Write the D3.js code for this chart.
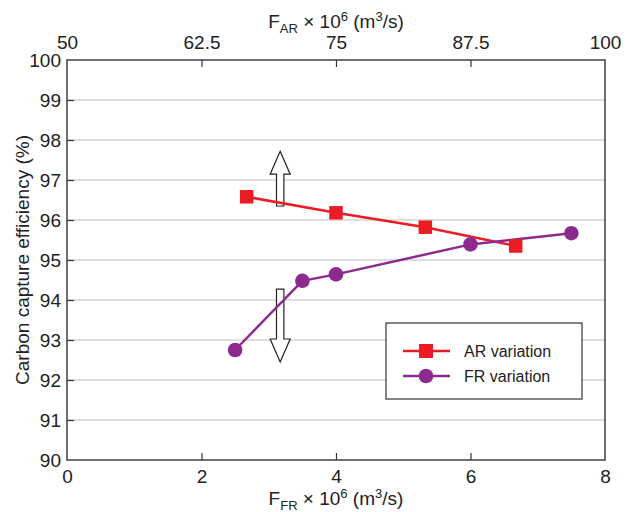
<!DOCTYPE html>
<html>
<head>
<meta charset="utf-8">
<script src="https://cdn.jsdelivr.net/npm/d3@7"></script>
<style>
  body { margin: 0; background: #fff; }
  text { font-family: "Liberation Sans", Arial, sans-serif; fill: #222; }
</style>
</head>
<body>
<div id="chart"></div>
<script>
// datos
const arFlow = [66.7, 75, 83.3, 91.7];          // F_AR x 10^6 (eje superior)
const arEff = [96.58, 96.18, 95.82, 95.35];
const frFlow = [2.5, 3.5, 4, 6, 7.5];           // F_FR x 10^6 (eje inferior)
const frEff = [92.75, 94.48, 94.64, 95.39, 95.67];

const bottomTicks = [0, 2, 4, 6, 8];
const topTicks = [50, 62.5, 75, 87.5, 100];
const yTicks = [90, 91, 92, 93, 94, 95, 96, 97, 98, 99, 100];

const seriesNames = ["AR variation", "FR variation"];
const colors = { ar: "#ec1c24", fr: "#8e2a8e", grid: "#bdbdbd" };

const WIDTH = 630, HEIGHT = 512;
const MARGIN = { top: 60, bottom: 52, left: 67, right: 25 };
const WV = WIDTH - MARGIN.left - MARGIN.right;
const HV = HEIGHT - MARGIN.top - MARGIN.bottom;

const svg = d3.select("#chart").append("svg")
  .attr("width", WIDTH).attr("height", HEIGHT);
const g = svg.append("g").attr("transform", `translate(${MARGIN.left},${MARGIN.top})`);

const xBottom = d3.scaleLinear().domain([0, 8]).range([0, WV]);
const xTop = d3.scaleLinear().domain([50, 100]).range([0, WV]);
const y = d3.scaleLinear().domain([90, 100]).range([HV, 0]);

// grid
g.append("g").selectAll("line").data(yTicks.slice(1, -1)).join("line")
  .attr("x1", 0).attr("x2", WV)
  .attr("y1", d => y(d)).attr("y2", d => y(d))
  .attr("stroke", colors.grid).attr("stroke-width", 1.2);

// ejes
const fontSize = 19;
const axL = g.append("g").call(d3.axisLeft(y).tickValues(yTicks).tickSize(-7).tickPadding(9));
const axB = g.append("g").attr("transform", `translate(0,${HV})`)
  .call(d3.axisBottom(xBottom).tickValues(bottomTicks).tickSize(-7).tickPadding(10));
const axT = g.append("g")
  .call(d3.axisTop(xTop).tickValues(topTicks).tickFormat(d3.format("")).tickSize(-7).tickPadding(11));
[axL, axB, axT].forEach(a => {
  a.select(".domain").remove();
  a.selectAll("line").attr("stroke", "#333").attr("stroke-width", 1.2);
  a.selectAll("text").attr("font-size", fontSize).attr("fill", "#222")
    .style("font-family", '"Liberation Sans", Arial, sans-serif');
});
axL.selectAll("text").attr("dx", 3);
// quitar ticks en las esquinas
axL.selectAll(".tick").filter(d => d === 90 || d === 100).select("line").remove();
axB.selectAll(".tick").filter(d => d === 0 || d === 8).select("line").remove();
axT.selectAll(".tick").filter(d => d === 50 || d === 100).select("line").remove();

g.append("rect").attr("width", WV).attr("height", HV)
  .attr("fill", "none").attr("stroke", "#333").attr("stroke-width", 1.4);

// flechas indicadoras
function arrow(xv, y0, y1) {
  const x = xBottom(xv), ya = y(y0), yb = y(y1);
  const dir = yb < ya ? -1 : 1;
  const headLen = 23, headW = 10, shaftW = 3.7;
  const yh = yb - dir * headLen;
  const pts = [
    [x - shaftW, ya], [x - shaftW, yh], [x - headW, yh], [x, yb],
    [x + headW, yh], [x + shaftW, yh], [x + shaftW, ya]
  ];
  g.append("path").attr("d", d3.line()(pts) + "Z")
    .attr("fill", "#fff").attr("stroke", "#222").attr("stroke-width", 1.2);
}
arrow(3.17, 96.35, 97.72);
arrow(3.17, 94.27, 92.45);

// series
const arData = arFlow.map((v, i) => [xTop(v), y(arEff[i])]);
const frData = frFlow.map((v, i) => [xBottom(v), y(frEff[i])]);

g.append("path").attr("d", d3.line()(arData)).attr("fill", "none")
  .attr("stroke", colors.ar).attr("stroke-width", 2.5);
g.append("path").attr("d", d3.line()(frData)).attr("fill", "none")
  .attr("stroke", colors.fr).attr("stroke-width", 2.5);

const sq = 13.5;
g.selectAll(".sq").data(arData).join("rect")
  .attr("x", d => d[0] - sq / 2).attr("y", d => d[1] - sq / 2)
  .attr("width", sq).attr("height", sq).attr("fill", colors.ar);
g.selectAll(".ci").data(frData).join("circle")
  .attr("cx", d => d[0]).attr("cy", d => d[1]).attr("r", 7.3).attr("fill", colors.fr);

// leyenda
const lg = svg.append("g").attr("transform", "translate(386,323)");
lg.append("rect").attr("width", 196).attr("height", 76)
  .attr("fill", "#fff").attr("stroke", "#333").attr("stroke-width", 1.2);
[[colors.ar, "sq"], [colors.fr, "ci"]].forEach(([c, m], i) => {
  const yy = 28 + i * 25;
  lg.append("line").attr("x1", 17).attr("x2", 64).attr("y1", yy).attr("y2", yy)
    .attr("stroke", c).attr("stroke-width", 2.5);
  if (m === "sq") lg.append("rect").attr("x", 40 - 7).attr("y", yy - 7).attr("width", 14).attr("height", 14).attr("fill", c);
  else lg.append("circle").attr("cx", 40).attr("cy", yy).attr("r", 7.3).attr("fill", c);
  lg.append("text").attr("x", 78).attr("y", yy + 6).attr("font-size", 16).text(seriesNames[i]);
});

// titulos de ejes
function axisTitle(yPos, sub) {
  const t = svg.append("text").attr("x", MARGIN.left + WV / 2).attr("y", yPos)
    .attr("text-anchor", "middle").attr("font-size", fontSize);
  t.append("tspan").text("F");
  t.append("tspan").attr("font-size", 13).attr("dy", 5).text(sub);
  t.append("tspan").attr("dy", -5).text(" × 10");
  t.append("tspan").attr("font-size", 13).attr("dy", -7).text("6");
  t.append("tspan").attr("dy", 7).text(" (m");
  t.append("tspan").attr("font-size", 13).attr("dy", -7).text("3");
  t.append("tspan").attr("dy", 7).text("/s)");
}
axisTitle(28, "AR");
axisTitle(505, "FR");

svg.append("text").attr("transform", `translate(29,${MARGIN.top + HV / 2}) rotate(-90)`)
  .attr("text-anchor", "middle").attr("font-size", fontSize)
  .text("Carbon capture efficiency (%)");
</script>
</body>
</html>
